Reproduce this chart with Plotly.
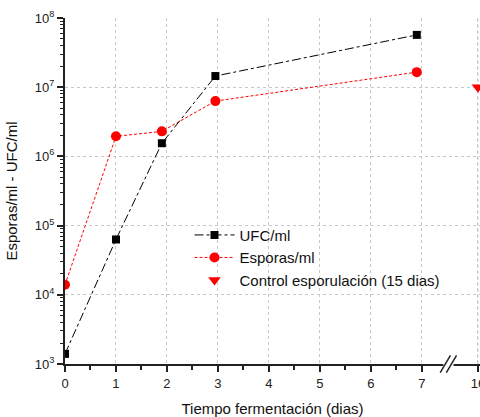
import plotly.graph_objects as go

# Data
days_ufc = [0, 1, 1.9, 2.95, 6.9]
ufc = [1.4e3, 6.3e4, 1.55e6, 1.45e7, 5.7e7]
days_esp = [0, 1, 1.9, 2.95, 6.9]
esporas = [1.4e4, 1.95e6, 2.3e6, 6.3e6, 1.65e7]
control_day = [16]
control = [1.0e7]

x_ticks = [0, 1, 2, 3, 4, 5, 6, 7, 16]
y_tick_exp = [3, 4, 5, 6, 7, 8]

# broken axis: values beyond 7 mapped onto display position
BREAK_FROM, BREAK_TO_DISPLAY = 16, 8.1
def disp(x):
    return BREAK_TO_DISPLAY + (x - BREAK_FROM) * 0.1 if x > 7.5 else x

FONT = "Liberation Sans, Arial, sans-serif"

fig = go.Figure()
fig.add_trace(go.Scatter(
    x=[disp(v) for v in days_ufc], y=ufc, name="UFC/ml", mode="lines+markers",
    line=dict(color="black", width=1, dash="dashdot"),
    marker=dict(symbol="square", size=8, color="black")))
fig.add_trace(go.Scatter(
    x=[disp(v) for v in days_esp], y=esporas, name="Esporas/ml", mode="lines+markers",
    line=dict(color="#ff0000", width=1, dash="3px,2px"),
    marker=dict(symbol="circle", size=10, color="#ff0000")))
fig.add_trace(go.Scatter(
    x=[disp(v) for v in control_day], y=control, name="Control esporulación (15 dias)", mode="markers",
    marker=dict(symbol="triangle-down", size=11, color="#ff0000"), cliponaxis=False))

minor_y = [k * 10 ** e for e in range(3, 8) for k in range(2, 10)]

fig.update_layout(
    width=480, height=417,
    margin=dict(l=65, r=0, t=18, b=53),
    paper_bgcolor="white", plot_bgcolor="white",
    font=dict(family=FONT, color="#222", size=13),
    showlegend=True,
    legend=dict(x=0.30, y=0.42, xanchor="left", yanchor="top",
                bgcolor="rgba(0,0,0,0)", font=dict(size=15, family=FONT, color="#111"),
                tracegroupgap=0, itemwidth=40),
)
fig.update_xaxes(
    range=[0, 8.14],
    tickvals=[disp(v) for v in x_ticks], ticktext=[str(v) for v in x_ticks],
    ticklabeloverflow="allow",
    showline=True, linecolor="#222", linewidth=2,
    ticks="outside", ticklen=6, tickwidth=1.5, tickcolor="#222",
    minor=dict(tickvals=[0.5, 1.5, 2.5, 3.5, 4.5, 5.5, 6.5], ticks="outside", ticklen=4, tickwidth=1.5, tickcolor="#222", showgrid=False),
    showgrid=True, gridcolor="#c8c8c8", griddash="dot", gridwidth=1,
    zeroline=False, automargin=False,
    title=dict(text="Tiempo fermentación (dias)", font=dict(size=15, family=FONT, color="#111"), standoff=14),
    tickfont=dict(size=13),
)
fig.update_yaxes(
    type="log", range=[3, 8],
    tickvals=[10 ** e for e in y_tick_exp], ticktext=["10<sup>%d</sup>" % e for e in y_tick_exp],
    showline=True, linecolor="#222", linewidth=2,
    ticks="outside", ticklen=6, tickwidth=1.5, tickcolor="#222",
    minor=dict(tickvals=minor_y, ticks="outside", ticklen=3, tickwidth=1, tickcolor="#222", showgrid=False),
    showgrid=True, gridcolor="#c8c8c8", griddash="dot", gridwidth=1,
    zeroline=False, automargin=False,
    title=dict(text="Esporas/ml - UFC/ml", font=dict(size=15, family=FONT, color="#111"), standoff=14),
    tickfont=dict(size=13),
)

# gridline and tick at the post-break position (too close to the edge for plotly to draw)
x16 = disp(16)
fig.add_shape(type="line", xref="x", yref="paper", x0=x16, x1=x16, y0=0, y1=1,
              line=dict(color="#c8c8c8", width=1, dash="dot"), layer="below")
fig.add_shape(type="line", xref="x", yref="paper", x0=x16, x1=x16, y0=0, y1=-0.018,
              line=dict(color="#222", width=1.5), layer="above")

# axis break marks
fig.add_shape(type="rect", xref="x", yref="paper", x0=7.42, x1=7.62, y0=-0.012, y1=0.012,
              fillcolor="white", line=dict(width=0), layer="above")
for dx in (0, 0.12):
    fig.add_shape(type="line", xref="x", yref="paper", x0=7.36 + dx, x1=7.56 + dx,
                  y0=-0.025, y1=0.025, line=dict(color="#222", width=1.5), layer="above")

fig.write_html("out.html", config={"displayModeBar": False},
               post_script="document.body.style.margin='0';document.body.style.overflow='hidden';")
